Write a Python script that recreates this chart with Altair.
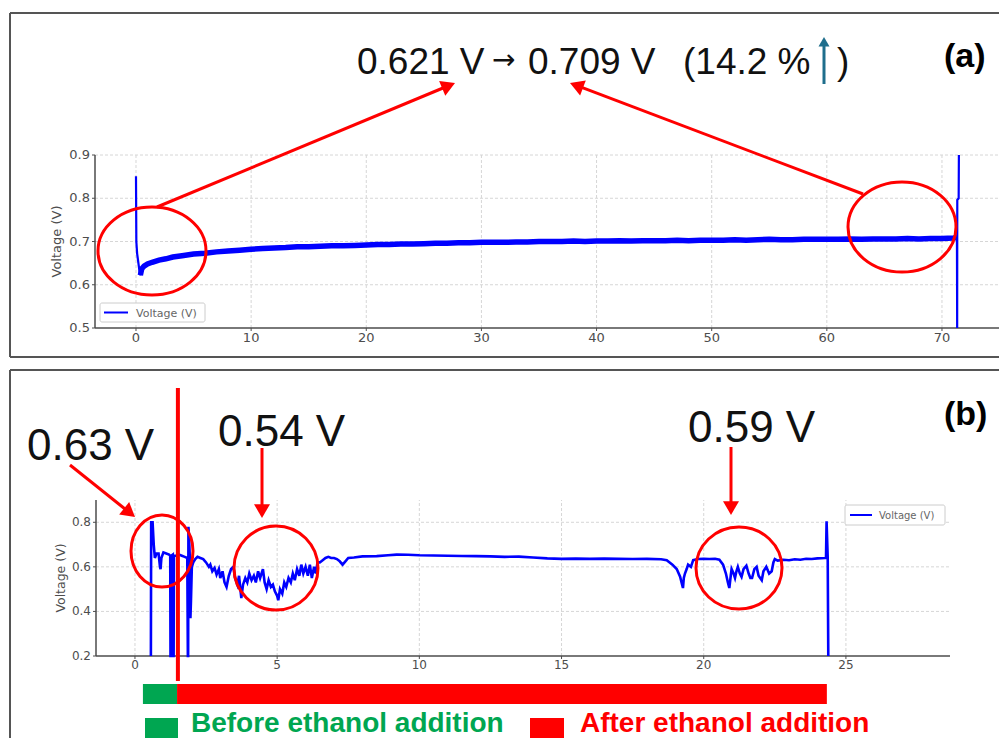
import math
import altair as alt
import pandas as pd

W, H = 999, 738

# ---------------- Panel (a): voltage over ~72 h ----------------
A_T = [0.0, 0.03, 0.1, 0.2, 0.3, 0.38, 0.5, 0.7, 1.0, 1.4, 2.0, 2.6, 3.2, 4.0,
       5, 6, 7, 8, 9, 10, 11, 12, 13, 14, 15, 16, 17, 18, 19, 20,
       21, 22, 23, 24, 25, 26, 27, 28, 29, 30, 31, 32, 33, 34, 35, 36, 37, 38,
       39, 40, 41, 42, 43, 44, 45, 46, 47, 48, 49, 50, 51, 52, 53, 54, 55, 56,
       57, 58, 59, 60, 61, 62, 63, 64, 65, 66, 67, 68, 69, 70, 71,
       71.3, 71.32, 71.33, 71.45, 71.47]
A_V = [0.851, 0.700, 0.672, 0.652, 0.632, 0.622, 0.637, 0.643, 0.648, 0.652, 0.657, 0.660, 0.664, 0.667,
       0.671, 0.673, 0.676, 0.678, 0.680, 0.682, 0.684, 0.685, 0.686, 0.688, 0.688, 0.689, 0.690, 0.690, 0.691, 0.692,
       0.693, 0.693, 0.694, 0.694, 0.695, 0.696, 0.696, 0.697, 0.697, 0.698, 0.698, 0.698, 0.699, 0.699, 0.700, 0.700, 0.700, 0.701,
       0.700, 0.701, 0.701, 0.702, 0.701, 0.702, 0.702, 0.702, 0.703, 0.702, 0.703, 0.703, 0.703, 0.704, 0.703, 0.704, 0.705, 0.704,
       0.704, 0.705, 0.705, 0.705, 0.705, 0.706, 0.705, 0.706, 0.706, 0.706, 0.707, 0.706, 0.707, 0.707, 0.708,
       0.709, 0.500, 0.796, 0.800, 0.900]
A_XTICKS = [0, 10, 20, 30, 40, 50, 60, 70]
A_YTICKS = [0.5, 0.6, 0.7, 0.8, 0.9]
A_XDOM = [-3.56, 75.04]
A_YDOM = [0.5, 0.9]

# ---------------- Panel (b): voltage over ~24 h ----------------
B_T = [0.56, 0.57, 0.62, 0.66, 0.70, 0.76, 0.83, 0.88, 0.90, 0.93,
       1.00, 1.10, 1.20, 1.24, 1.25, 1.27, 1.28, 1.33, 1.34, 1.36,
       1.37, 1.45, 1.55, 1.65, 1.75, 1.84, 1.86, 1.87, 1.88, 1.90,
       1.93, 1.95, 1.97, 2.00, 2.05, 2.12, 2.20, 2.30, 2.40, 2.50,
       2.60, 2.65, 2.72, 2.80, 2.87, 2.95, 3.00, 3.08, 3.15, 3.22,
       3.30, 3.38, 3.46, 3.52, 3.60, 3.66, 3.74, 3.80, 3.88, 3.95,
       4.02, 4.10, 4.18, 4.25, 4.33, 4.40, 4.50, 4.56, 4.63, 4.70,
       4.78, 4.85, 4.92, 5.00, 5.04, 5.10, 5.18, 5.25, 5.32, 5.40,
       5.48, 5.55, 5.62, 5.70, 5.78, 5.85, 5.92, 6.00, 6.08, 6.15,
       6.22, 6.30, 6.36, 6.42, 6.50, 6.60, 6.70, 6.80, 6.90, 7.00,
       7.10, 7.20, 7.30, 7.40, 7.50, 7.70, 8.00, 8.50, 8.90, 9.20,
       9.60, 10.0, 10.5, 11.0, 11.5, 12.0, 12.5, 13.0, 13.5, 14.0,
       14.5, 15.0, 15.5, 16.0, 16.5, 17.0, 17.5, 18.0, 18.5, 18.7,
       18.9, 19.05, 19.17, 19.22, 19.27, 19.30, 19.34, 19.40, 19.45, 19.55,
       19.63, 19.80, 20.0, 20.2, 20.4, 20.55, 20.68, 20.78, 20.85, 20.90,
       20.95, 20.98, 21.05, 21.10, 21.15, 21.20, 21.27, 21.33, 21.40, 21.50,
       21.58, 21.64, 21.70, 21.78, 21.86, 21.93, 22.04, 22.10, 22.20, 22.30,
       22.39, 22.45, 22.50, 22.60, 22.80, 23.0, 23.2, 23.4, 23.6, 23.8,
       24.0, 24.26, 24.30, 24.32, 24.36, 24.38]
B_V = [0.20, 0.80, 0.80, 0.70, 0.64, 0.66, 0.66, 0.60, 0.59, 0.64,
       0.665, 0.66, 0.655, 0.65, 0.20, 0.20, 0.65, 0.655, 0.20, 0.20,
       0.65, 0.65, 0.655, 0.65, 0.645, 0.64, 0.20, 0.20, 0.78, 0.74,
       0.64, 0.37, 0.45, 0.60, 0.62, 0.635, 0.645, 0.64, 0.635, 0.62,
       0.60, 0.61, 0.58, 0.595, 0.565, 0.59, 0.55, 0.58, 0.53, 0.51,
       0.56, 0.59, 0.60, 0.55, 0.52, 0.56, 0.46, 0.52, 0.55, 0.53,
       0.57, 0.54, 0.56, 0.53, 0.58, 0.55, 0.59, 0.53, 0.50, 0.54,
       0.51, 0.52, 0.49, 0.47, 0.45, 0.50, 0.48, 0.53, 0.51, 0.55,
       0.53, 0.57, 0.54, 0.59, 0.56, 0.61, 0.57, 0.60, 0.56, 0.61,
       0.55, 0.60, 0.57, 0.62, 0.62, 0.63, 0.64, 0.645, 0.64, 0.64,
       0.635, 0.625, 0.61, 0.625, 0.64, 0.642, 0.647, 0.648, 0.652, 0.655,
       0.654, 0.652, 0.651, 0.650, 0.649, 0.648, 0.647, 0.645, 0.646, 0.642,
       0.638, 0.636, 0.637, 0.636, 0.637, 0.636, 0.635, 0.636, 0.634, 0.630,
       0.610, 0.590, 0.556, 0.530, 0.505, 0.550, 0.570, 0.590, 0.610, 0.600,
       0.630, 0.635, 0.636, 0.635, 0.636, 0.632, 0.610, 0.570, 0.530, 0.505,
       0.560, 0.590, 0.570, 0.550, 0.580, 0.600, 0.570, 0.555, 0.590, 0.605,
       0.570, 0.550, 0.550, 0.590, 0.600, 0.560, 0.540, 0.580, 0.600, 0.570,
       0.580, 0.620, 0.635, 0.628, 0.632, 0.630, 0.634, 0.632, 0.636, 0.635,
       0.638, 0.640, 0.640, 0.805, 0.640, 0.200]
assert len(B_T) == len(B_V) and len(A_T) == len(A_V)
B_XTICKS = [0, 5, 10, 15, 20, 25]
B_YTICKS = [0.2, 0.4, 0.6, 0.8]
B_XDOM = [-1.37, 28.66]
B_YDOM = [0.2, 0.9]

PHASES = ["Before ethanol addition", "After ethanol addition"]
PHASE_START = [0.28, 1.48]
PHASE_END = [1.48, 24.33]
PHASE_COLORS = ["#00A651", "#FF0000"]
ETHANOL_T = 1.51

HEADLINE = ["0.621 V", "\u2192", "0.709 V", "(14.2 %", ")"]
CALLOUTS = ["0.63 V", "0.54 V", "0.59 V"]
PANEL_TAGS = ["(a)", "(b)"]
SERIES_NAME = "Voltage (V)"

# ---------------- layout (pixels) ----------------
A_BOX = (95, 1000, 155, 328)   # left, right, top, bottom of plot area (a)
B_BOX = (96, 950, 500, 656)    # left, right, top, bottom of plot area (b)
GRAY = "#4d4d4d"
BLUE = "#0000FF"
RED = "#FF0000"


def panel(ts, vs, xt, yt, xdom, ydom, box, lsize, tsize, title_x, band=None, line_w=2.0, band_w=5):
    left, right, top, bottom = box
    xs = alt.Scale(domain=xdom, range=[left, right], nice=False, zero=False)
    ys = alt.Scale(domain=ydom, range=[bottom, top], nice=False, zero=False)

    def X(f):
        return alt.X(f, type="quantitative", scale=xs, axis=None)

    def Y(f):
        return alt.Y(f, type="quantitative", scale=ys, axis=None)

    df = pd.DataFrame({"t": ts, "v": vs, "i": list(range(len(ts)))})
    gv = pd.DataFrame({"t": xt, "v0": [ydom[0]] * len(xt), "v1": [ydom[1]] * len(xt),
                       "lab": [str(v) for v in xt]})
    gh = pd.DataFrame({"v": yt, "t0": [xdom[0]] * len(yt), "t1": [xdom[1]] * len(yt),
                       "lab": [f"{v:.1f}" for v in yt]})
    grid_style = dict(color="#d6d6d6", strokeDash=[3, 2], strokeWidth=1)
    grid_v = alt.Chart(gv).mark_rule(**grid_style).encode(x=X("t"), y=Y("v0"), y2="v1:Q")
    grid_h = alt.Chart(gh[gh.v > ydom[0]]).mark_rule(**grid_style).encode(y=Y("v"), x=X("t0"), x2="t1:Q")

    # axes drawn from tick arrays through the panel scales
    dom = pd.DataFrame({"t0": [xdom[0]], "t1": [xdom[1]], "v0": [ydom[0]], "v1": [ydom[1]]})
    dom_x = alt.Chart(dom).mark_rule(color=GRAY, strokeWidth=1.5).encode(x=X("t0"), x2="t1:Q", y=Y("v0"))
    dom_y = alt.Chart(dom).mark_rule(color=GRAY, strokeWidth=1.5).encode(x=X("t0"), y=Y("v0"), y2="v1:Q")
    tick_x = alt.Chart(gv).mark_rule(color=GRAY, strokeWidth=1).encode(
        x=X("t"), y=alt.value(bottom), y2=alt.value(bottom + 3))
    tick_y = alt.Chart(gh).mark_rule(color=GRAY, strokeWidth=1).encode(
        y=Y("v"), x=alt.value(left - 3), x2=alt.value(left))
    lab_x = alt.Chart(gv).mark_text(align="center", baseline="top", font="DejaVu Sans",
                                    fontSize=lsize, color=GRAY).encode(
        x=X("t"), y=alt.value(bottom + 4), text="lab:N")
    lab_y = alt.Chart(gh).mark_text(align="right", baseline="middle", font="DejaVu Sans",
                                    fontSize=lsize, color=GRAY).encode(
        y=Y("v"), x=alt.value(left - 5), text="lab:N")
    title = alt.Chart(pd.DataFrame({"s": [SERIES_NAME]})).mark_text(
        angle=270, align="center", baseline="middle", font="DejaVu Sans", fontSize=tsize,
        color=GRAY).encode(x=alt.value(title_x), y=alt.value((top + bottom) / 2), text="s:N")

    line = alt.Chart(df).mark_line(color=BLUE, strokeWidth=line_w).encode(
        x=X("t"), y=Y("v"), order="i:Q")
    layers = [grid_v, grid_h, dom_x, dom_y, tick_x, tick_y, lab_x, lab_y, title, line]
    if band is not None:
        thick = alt.Chart(df).mark_line(color=BLUE, strokeWidth=band_w).encode(
            x=X("t"), y=Y("v"), order="i:Q").transform_filter(
            (alt.datum.t >= band[0]) & (alt.datum.t <= band[1]))
        layers.append(thick)
    return layers, xs, ys


a_layers, xa, ya = panel(A_T, A_V, A_XTICKS, A_YTICKS, A_XDOM, A_YDOM, A_BOX,
                         13, 13, 57, band=(0.38, 71.3), line_w=2.2, band_w=5.5)
b_layers, xb, yb = panel(B_T, B_V, B_XTICKS, B_YTICKS, B_XDOM, B_YDOM, B_BOX,
                         12, 12.5, 61, line_w=2.6)

# phase bar and ethanol addition line in panel (b) time coordinates
ph = pd.DataFrame({"phase": PHASES, "s": PHASE_START, "e": PHASE_END, "c": PHASE_COLORS})
phase_bar = alt.Chart(ph).mark_rect().encode(
    x=alt.X("s:Q", scale=xb, axis=None), x2="e:Q",
    y=alt.value(684), y2=alt.value(704),
    color=alt.Color("c:N", scale=None))
eth = alt.Chart(pd.DataFrame({"t": [ETHANOL_T]})).mark_rule(color=RED, strokeWidth=4).encode(
    x=alt.X("t:Q", scale=xb, axis=None), y=alt.value(388), y2=alt.value(681))
b_layers += [phase_bar, eth]

panel_a = alt.layer(*a_layers)
panel_b = alt.layer(*b_layers)


# ---------------- pixel-space decorations ----------------
def PX(f):
    return alt.X(f, type="quantitative", scale=None, axis=None)


def PY(f):
    return alt.Y(f, type="quantitative", scale=None, axis=None)


borders = pd.DataFrame([
    dict(x=10, y=13, x2=999, y2=13), dict(x=10, y=13, x2=10, y2=357),
    dict(x=10, y=357, x2=999, y2=357), dict(x=10, y=370, x2=999, y2=370),
    dict(x=10, y=370, x2=10, y2=738)])
border_layer = alt.Chart(borders).mark_rule(color="#555555", strokeWidth=2).encode(
    x=PX("x"), y=PY("y"), x2="x2:Q", y2="y2:Q")

leg_boxes = pd.DataFrame([dict(x=100, y=303, x2=205, y2=322), dict(x=845, y=505, x2=945, y2=525)])
leg_box_layer = alt.Chart(leg_boxes).mark_rect(fill="white", stroke="#cccccc", strokeWidth=1,
                                                cornerRadius=2).encode(
    x=PX("x"), y=PY("y"), x2="x2:Q", y2="y2:Q")
leg_lines = pd.DataFrame([dict(x=104, y=312.5, x2=128, y2=312.5), dict(x=850, y=515, x2=872, y2=515)])
leg_line_layer = alt.Chart(leg_lines).mark_rule(color=BLUE, strokeWidth=2).encode(
    x=PX("x"), y=PY("y"), x2="x2:Q", y2="y2:Q")
leg_txt = pd.DataFrame([dict(text=SERIES_NAME, x=136, y=317, fs=11),
                        dict(text=SERIES_NAME, x=879, y=519, fs=10)])
leg_txt_layer = alt.Chart(leg_txt).mark_text(align="left", baseline="alphabetic", font="DejaVu Sans",
                                             color="#666666").encode(
    x=PX("x"), y=PY("y"), text="text:N", size=alt.Size("fs:Q", scale=None))

# ellipses
ELL = [(152, 251, 54, 44), (902, 227, 54, 45), (162, 551, 31, 36), (276, 568, 42, 42), (739, 568, 43, 41)]
ell_rows = []
for cx, cy, rx, ry in ELL:
    r = ry / rx
    ell_rows.append(dict(x=cx, y=cy, size=(2 * rx) ** 2,
                         shape=f"M-1,0A1,{r:.4f},0,1,1,1,0A1,{r:.4f},0,1,1,-1,0Z"))
ell_layer = alt.Chart(pd.DataFrame(ell_rows)).mark_point(filled=False, color=RED, strokeWidth=3,
                                                          opacity=1).encode(
    x=PX("x"), y=PY("y"), size=alt.Size("size:Q", scale=None), shape=alt.Shape("shape:N", scale=None))


def arrows(specs, color, r, width):
    h = math.sqrt(3) / 2 * r
    shafts, heads = [], []
    for x0, y0, x1, y1 in specs:
        dx, dy = x1 - x0, y1 - y0
        L = math.hypot(dx, dy)
        ux, uy = dx / L, dy / L
        shafts.append(dict(x=x0, y=y0, x2=x1 - ux * h * 1.5, y2=y1 - uy * h * 1.5))
        heads.append(dict(x=x1 - ux * h, y=y1 - uy * h, ang=math.degrees(math.atan2(ux, -uy)) % 360))
    s = alt.Chart(pd.DataFrame(shafts)).mark_rule(color=color, strokeWidth=width).encode(
        x=PX("x"), y=PY("y"), x2="x2:Q", y2="y2:Q")
    hd = alt.Chart(pd.DataFrame(heads)).mark_point(filled=True, shape="triangle-up", color=color,
                                                   opacity=1, strokeWidth=0).encode(
        x=PX("x"), y=PY("y"), angle=alt.Angle("ang:Q", scale=None), size=alt.value((2 * r) ** 2))
    return [s, hd]


red_arrows = arrows([(157, 207, 455, 83), (863, 194, 570, 83), (70, 465, 135, 517),
                     (262, 448, 262, 518), (731, 447, 731, 515)], RED, 8, 3)
teal_arrow = arrows([(824, 84, 824, 37)], "#1F6E8C", 5.5, 3)

# legend squares for phases
sq = pd.DataFrame([dict(x=145, y=718, x2=178, y2=740, c=PHASE_COLORS[0]),
                   dict(x=530, y=718, x2=564, y2=740, c=PHASE_COLORS[1])])
sq_layer = alt.Chart(sq).mark_rect().encode(x=PX("x"), y=PY("y"), x2="x2:Q", y2="y2:Q",
                                             color=alt.Color("c:N", scale=None))


def text_layer(rows, font, weight):
    df = pd.DataFrame(rows, columns=["text", "x", "y", "fs", "c"])
    return alt.Chart(df).mark_text(align="left", baseline="alphabetic", font=font,
                                   fontWeight=weight).encode(
        x=PX("x"), y=PY("y"), text="text:N", size=alt.Size("fs:Q", scale=None),
        color=alt.Color("c:N", scale=None))


normal_txt = text_layer([
    (HEADLINE[0], 357, 74, 37, "#111111"),
    (HEADLINE[2], 528, 74, 37, "#111111"),
    (HEADLINE[3], 683, 74, 37, "#111111"),
    (HEADLINE[4], 837, 74, 37, "#111111"),
    (CALLOUTS[0], 27, 460, 44, "#111111"),
    (CALLOUTS[1], 218, 446, 44, "#111111"),
    (CALLOUTS[2], 688, 442, 44, "#111111"),
], "Liberation Sans", "normal")
arrow_txt = text_layer([(HEADLINE[1], 492, 69, 28, "#111111")], "DejaVu Sans", "normal")
bold_txt = text_layer([
    (PANEL_TAGS[0], 944, 67, 34, "#000000"),
    (PANEL_TAGS[1], 944, 425, 34, "#000000"),
    (PHASES[0], 191, 732, 28, PHASE_COLORS[0]),
    (PHASES[1], 580, 732, 28, PHASE_COLORS[1]),
], "Liberation Sans", "bold")

chart = alt.layer(
    border_layer, panel_a, panel_b, leg_box_layer, leg_line_layer, leg_txt_layer,
    ell_layer, *red_arrows, *teal_arrow, sq_layer, normal_txt, arrow_txt, bold_txt
).resolve_scale(x="independent", y="independent").properties(
    width=W, height=H, padding=0, autosize=alt.AutoSizeParams(type="none"), background="white"
).configure_view(stroke=None)

chart.save("out.html", embed_options={"renderer": "svg", "actions": False})
